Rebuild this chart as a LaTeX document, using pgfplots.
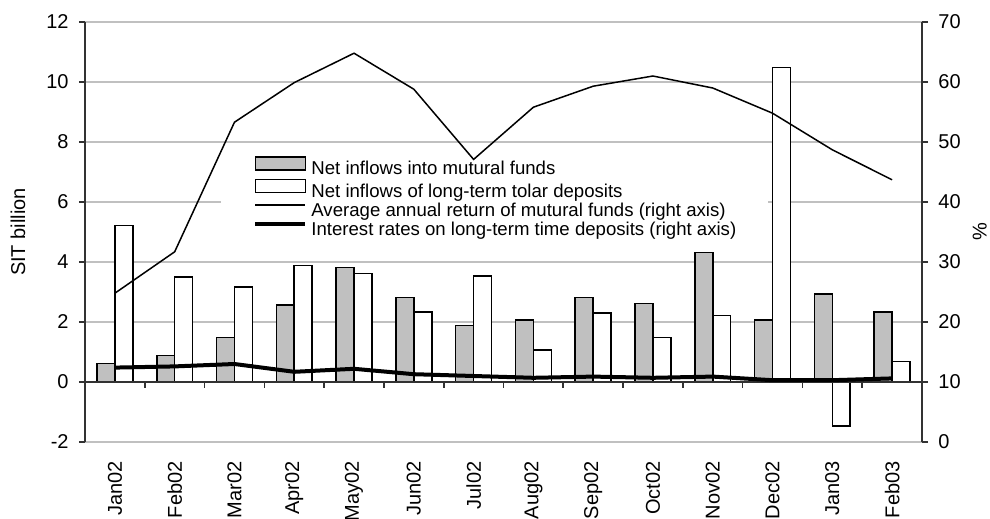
\documentclass[border=0pt]{standalone}
\usepackage{pgfplots}
\pgfplotsset{compat=1.18}
\usepackage{pgfplotstable}
\usepackage{fontspec}
\setmainfont{Liberation Sans}
\definecolor{barfill}{RGB}{192,192,192}
\definecolor{gridc}{RGB}{192,192,192}
\definecolor{axisc}{RGB}{50,50,50}

% idx: month, grey/white in SIT billion (left), ret/rate in % (right)
\pgfplotstableread{
idx grey white ret rate
0  0.62  5.21 24.8 12.4
1  0.88  3.49 31.7 12.6
2  1.48  3.16 53.3 13.0
3  2.56  3.88 59.9 11.7
4  3.81  3.61 64.8 12.2
5  2.81  2.34 58.8 11.3
6  1.88  3.54 47.1 11.0
7  2.07  1.07 55.8 10.7
8  2.81  2.29 59.3 10.9
9  2.61  1.48 61.0 10.7
10 4.32  2.21 59.0 10.9
11 2.07 10.48 54.8 10.3
12 2.93 -1.46 48.7 10.3
13 2.33  0.68 43.7 10.6
}\data

\begin{document}
\begin{tikzpicture}[font=\fontsize{10}{12}\selectfont]
\pgfplotsset{every axis/.append style={
    scale only axis, width=418.5pt, height=210pt,
    xmin=-0.5, xmax=13.5,
    /pgf/number format/assume math mode=true,
    tick label style={font=\fontsize{10}{12}\selectfont},
    label style={font=\fontsize{10}{12}\selectfont},
}}
\begin{axis}[
    ymin=-2, ymax=12, ytick={-2,0,...,12},
    axis y line*=left, axis x line*=bottom,
    x axis line style={draw=none},
    y axis line style={axisc, line width=0.8pt},
    ytick align=outside, ytick style={axisc, line width=0.8pt},
    major tick length=3pt,
    yticklabel style={inner sep=0pt, xshift=-5pt},
    xtick={0,...,13},
    xticklabels={Jan02,Feb02,Mar02,Apr02,May02,Jun02,Jul02,Aug02,Sep02,Oct02,Nov02,Dec02,Jan03,Feb03},
    xtick style={draw=none},
    xticklabel style={rotate=90, anchor=east, inner sep=0pt, xshift=-9.5pt},
    ymajorgrids, grid style={gridc, line width=0.6pt},
    ylabel={SIT billion},
    ylabel style={at={(axis description cs:-0.08,0.5)}, anchor=center},
    legend cell align=left,
    legend style={at={(rel axis cs:0.1625,0.58)}, anchor=west,
        fill=white, draw=none, inner xsep=16pt, inner ysep=2pt,
        font=\fontsize{9.3}{11}\selectfont, row sep=-0.5pt,
        nodes={inner sep=0pt, text height=7.5pt, text depth=2.5pt},
        /tikz/every odd column/.append style={column sep=2pt}},
]
\coordinate (bl) at (rel axis cs:0,0);
\addplot[ybar, bar width=0.3, bar shift=-0.15, fill=barfill, draw=black,
    line width=0.8pt, forget plot] table[x=idx, y=grey] {\data};
\addplot[ybar, bar width=0.3, bar shift=0.15, fill=white, draw=black,
    line width=0.8pt, forget plot] table[x=idx, y=white] {\data};
\addlegendimage{legend image code/.code={\draw[fill=barfill, draw=black, line width=0.8pt] (0pt,0pt) rectangle (25pt,6.5pt);}}
\addlegendentry{Net inflows into mutural funds}
\addlegendimage{legend image code/.code={\draw[fill=white, draw=black, line width=0.8pt] (0pt,0pt) rectangle (25pt,6.5pt);}}
\addlegendentry{Net inflows of long-term tolar deposits}
\addlegendimage{legend image code/.code={\draw[black, line width=0.75pt] (0pt,3.3pt) -- (25pt,3.3pt);}}
\addlegendentry{Average annual return of mutural funds (right axis)}
\addlegendimage{legend image code/.code={\draw[black, line width=2pt] (0pt,3.3pt) -- (25pt,3.3pt);}}
\addlegendentry{Interest rates on long-term time deposits (right axis)}
\end{axis}

% zero line with category separators
\begin{axis}[
    ymin=-2, ymax=12,
    axis x line=middle, axis y line=none,
    axis line style={-, axisc, line width=0.8pt},
    xtick={0.5,1.5,...,12.5}, xticklabels={},
    xtick align=outside, xtick style={axisc, line width=0.8pt},
    major tick length=3pt, ytick=\empty,
]
\end{axis}

\begin{axis}[
    ymin=0, ymax=70, ytick={0,10,...,70},
    axis y line*=right, axis x line=none,
    y axis line style={axisc, line width=0.8pt},
    ytick align=outside, ytick style={axisc, line width=0.8pt},
    major tick length=3pt,
    yticklabel style={inner sep=0pt, xshift=5pt},
    ylabel={\%},
    ylabel style={at={(axis description cs:1.069,0.5)}, anchor=center},
]
\addplot[black, line width=0.75pt] table[x=idx, y=ret] {\data};
\addplot[black, line width=2pt] table[x=idx, y=rate] {\data};
\end{axis}

\pgfresetboundingbox
\path ([shift={(-42.5pt,-38.5pt)}]bl) rectangle ([shift={(452.5pt,221pt)}]bl);
\end{tikzpicture}
\end{document}
